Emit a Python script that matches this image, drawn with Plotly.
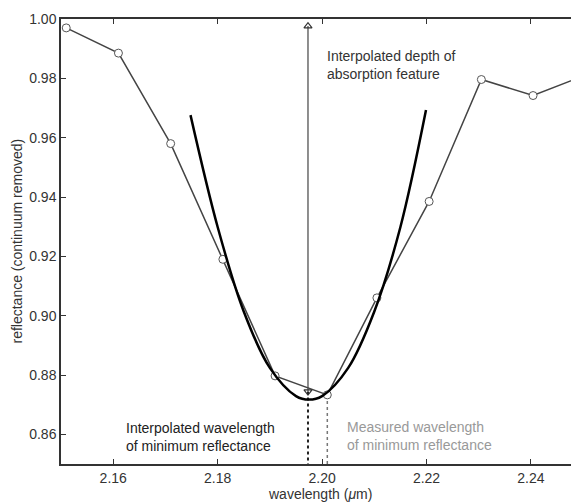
import plotly.graph_objects as go

# measured spectrum (continuum removed)
wavelength = [2.151, 2.161, 2.171, 2.181, 2.191, 2.201, 2.2105, 2.2205, 2.2305, 2.2404, 2.2503]
reflectance = [0.997, 0.9885, 0.958, 0.919, 0.8797, 0.8733, 0.906, 0.9385, 0.9796, 0.9742, 0.981]

# fitted curve around the minimum
fit_x = [2.1748, 2.180, 2.185, 2.190, 2.195, 2.1975, 2.200, 2.205, 2.210, 2.215, 2.2199]
fit_y = [0.9676, 0.9299, 0.9014, 0.8824, 0.8729, 0.8717, 0.8729, 0.8824, 0.9014, 0.9299, 0.9693]

interp_min_x = 2.1973
interp_min_y = 0.8744
depth_top_y = 0.9976
measured_min_x = 2.201
measured_min_y = 0.8733

y_ticks = [0.86, 0.88, 0.90, 0.92, 0.94, 0.96, 0.98, 1.00]
x_ticks = [2.16, 2.18, 2.20, 2.22, 2.24]

FONT = "Liberation Sans, Arial, sans-serif"
INK = "#333333"

fig = go.Figure()

# dotted guides down to the axis
fig.add_trace(go.Scatter(
    x=[interp_min_x, interp_min_x], y=[interp_min_y, 0.85],
    mode="lines", line=dict(color="#222222", width=2, dash="dot"),
    hoverinfo="skip", showlegend=False, cliponaxis=False))
fig.add_trace(go.Scatter(
    x=[measured_min_x, measured_min_x], y=[measured_min_y, 0.85],
    mode="lines", line=dict(color="#777777", width=1.5, dash="dot"),
    hoverinfo="skip", showlegend=False, cliponaxis=False))

# depth arrow
fig.add_trace(go.Scatter(
    x=[interp_min_x, interp_min_x], y=[interp_min_y, depth_top_y],
    mode="lines", line=dict(color="#444444", width=1.2),
    hoverinfo="skip", showlegend=False))
fig.add_trace(go.Scatter(
    x=[interp_min_x], y=[depth_top_y], mode="markers",
    marker=dict(symbol="triangle-up-open", size=7, color="#333333",
                line=dict(width=1.2)),
    hoverinfo="skip", showlegend=False, cliponaxis=False))

# spectrum
fig.add_trace(go.Scatter(
    x=wavelength, y=reflectance, mode="lines+markers",
    line=dict(color="#444444", width=1.5),
    marker=dict(symbol="circle", size=8, color="white",
                line=dict(color="#555555", width=1)),
    showlegend=False))

# fitted curve
fig.add_trace(go.Scatter(
    x=fit_x, y=fit_y, mode="lines",
    line=dict(color="black", width=2.5, shape="spline"),
    showlegend=False))

fig.add_trace(go.Scatter(
    x=[interp_min_x], y=[interp_min_y], mode="markers",
    marker=dict(symbol="triangle-down-open", size=7, color="#333333",
                line=dict(width=1.2)),
    hoverinfo="skip", showlegend=False))

annotations = [
    dict(x=2.2006, y=0.9845, text="Interpolated depth of<br>absorption feature",
         font=dict(color=INK)),
    dict(x=2.162, y=0.859, text="Interpolated wavelength<br>of minimum reflectance",
         font=dict(color="#222222")),
    dict(x=2.2043, y=0.8594, text="Measured wavelength<br>of minimum reflectance",
         font=dict(color="#999999")),
]
for a in annotations:
    a.update(xref="x", yref="y", showarrow=False, xanchor="left", yanchor="middle",
             align="left")
    a["font"].update(size=14, family=FONT)

# axis titles placed by hand
annotations += [
    dict(xref="paper", yref="paper", x=0.5, y=0, yshift=-30, showarrow=False,
         xanchor="center", yanchor="middle", text="wavelength (<i>μ</i>m)",
         font=dict(size=14, family=FONT, color=INK)),
    dict(xref="paper", yref="paper", x=0, y=0.5, xshift=-45, showarrow=False,
         xanchor="center", yanchor="middle", textangle=-90,
         text="reflectance (continuum removed)",
         font=dict(size=14, family=FONT, color=INK)),
]

# page body adds an 8px margin, so the figure is sized to fill the rest
fig.update_layout(
    width=571, height=495,
    margin=dict(l=53, r=0, t=11, b=39),
    paper_bgcolor="white", plot_bgcolor="white",
    font=dict(family=FONT, size=14, color=INK),
    annotations=annotations,
    xaxis=dict(
        range=[2.15, 2.2492], tickvals=x_ticks, ticktext=[f"{v:.2f}" for v in x_ticks],
        ticks="inside", ticklen=5, tickcolor=INK, showline=True, linecolor=INK,
        linewidth=1.5, mirror="ticks", showgrid=False, zeroline=False,
        automargin=False,
    ),
    yaxis=dict(
        range=[0.85, 1.00], tickvals=y_ticks, ticktext=[f"{v:.2f}" for v in y_ticks],
        ticks="inside", ticklen=5, tickcolor=INK, showline=True, linecolor=INK,
        linewidth=1.5, mirror="ticks", showgrid=False, zeroline=False,
        automargin=False,
    ),
)

fig.write_html("out.html")
